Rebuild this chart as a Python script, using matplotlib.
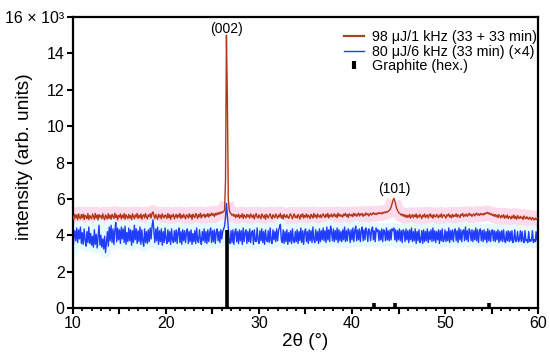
import matplotlib
matplotlib.use('Agg')
import matplotlib.pyplot as plt
import numpy as np
from matplotlib.lines import Line2D
from matplotlib.ticker import MultipleLocator, FuncFormatter

plt.rcParams['font.family'] = ['Liberation Sans', 'DejaVu Sans']

# Scan grid: 2theta from 10 to 60 deg, 0.1 deg step
two_theta = np.linspace(10, 60, 501)

# 98 uJ / 1 kHz (33 + 33 min), intensity in 10^3 counts
red = [
    5.05, 4.88, 5.15, 4.95, 5.12, 4.85, 5.18, 5.00, 4.90, 5.14,
    4.96, 5.16, 4.86, 5.10, 5.02, 4.92, 5.19, 4.87, 5.08, 5.00,
    4.90, 5.17, 5.04, 4.88, 5.20, 4.95, 5.11, 4.84, 5.13, 5.00,
    5.08, 4.91, 5.18, 4.97, 4.86, 5.12, 5.02, 4.90, 5.19, 4.94,
    5.10, 4.88, 5.15, 5.04, 4.92, 5.21, 4.97, 5.12, 4.85, 5.08,
    5.00, 5.17, 4.90, 5.10, 4.96, 5.19, 4.88, 5.13, 5.02, 4.92,
    5.15, 4.95, 5.08, 4.86, 5.18, 5.04, 4.90, 5.12, 5.00, 5.20,
    4.92, 5.10, 4.97, 5.17, 4.88, 5.08, 5.13, 4.95, 5.19, 5.02,
    4.90, 5.12, 5.04, 5.18, 4.95, 5.21, 5.28, 5.08, 4.92, 5.14,
    5.02, 4.88, 5.16, 5.00, 5.10, 4.90, 5.18, 5.04, 4.95, 5.12,
    5.07, 4.92, 5.19, 4.97, 5.13, 4.87, 5.10, 5.02, 5.16, 4.90,
    5.04, 5.15, 4.95, 5.12, 5.00, 5.20, 4.92, 5.10, 4.97, 5.16,
    5.02, 4.90, 5.13, 5.07, 4.95, 5.18, 5.00, 5.12, 4.88, 5.15,
    5.04, 4.97, 5.19, 5.10, 4.92, 5.14, 5.02, 5.21, 4.95, 5.12,
    5.06, 5.16, 4.97, 5.13, 5.04, 5.19, 5.00, 5.15, 5.08, 5.22,
    5.10, 5.18, 5.03, 5.20, 5.11, 5.23, 5.14, 5.25, 5.17, 5.28,
    5.22, 5.30, 5.28, 5.42, 7.00, 15.00, 11.50, 5.95, 5.38, 5.25,
    5.18, 5.10, 5.16, 5.04, 5.14, 4.97, 5.12, 5.02, 5.16, 4.94,
    5.09, 5.00, 5.18, 4.92, 5.13, 5.04, 4.95, 5.15, 5.02, 5.11,
    4.94, 5.17, 5.06, 4.97, 5.13, 4.90, 5.09, 5.19, 5.00, 4.95,
    5.13, 5.02, 4.91, 5.17, 5.06, 4.97, 5.11, 4.88, 5.15, 5.04,
    4.95, 5.09, 5.18, 5.00, 4.91, 5.13, 5.04, 4.97, 5.17, 5.06,
    4.93, 5.11, 5.02, 5.20, 4.95, 5.09, 4.89, 5.15, 5.04, 4.97,
    5.13, 5.00, 4.93, 5.11, 5.18, 5.02, 4.91, 5.09, 5.17, 4.97,
    5.06, 4.95, 5.15, 5.04, 4.89, 5.13, 5.02, 5.18, 4.94, 5.09,
    5.00, 5.17, 4.97, 5.11, 5.04, 4.92, 5.15, 5.06, 4.95, 5.20,
    5.02, 5.11, 4.94, 5.17, 5.04, 5.00, 5.13, 4.96, 5.09, 5.18,
    5.06, 4.97, 5.15, 5.02, 5.20, 4.95, 5.11, 5.04, 5.17, 5.00,
    5.09, 5.18, 5.02, 5.13, 4.97, 5.21, 5.06, 5.15, 5.04, 5.11,
    5.00, 5.17, 5.09, 5.20, 5.04, 5.13, 4.97, 5.18, 5.11, 5.06,
    5.15, 5.02, 5.21, 5.09, 5.17, 5.04, 5.13, 5.22, 5.06, 5.18,
    5.11, 5.20, 5.04, 5.15, 5.09, 5.23, 5.13, 5.18, 5.06, 5.17,
    5.21, 5.11, 5.18, 5.24, 5.15, 5.20, 5.13, 5.22, 5.17, 5.25,
    5.20, 5.23, 5.17, 5.26, 5.22, 5.28, 5.24, 5.30, 5.27, 5.33,
    5.36, 5.42, 5.55, 5.72, 5.92, 6.03, 5.90, 5.68, 5.48, 5.36,
    5.26, 5.20, 5.18, 5.10, 5.16, 5.05, 5.14, 5.01, 5.11, 4.97,
    5.09, 5.00, 5.15, 4.94, 5.06, 5.13, 4.97, 5.11, 5.02, 5.17,
    4.95, 5.09, 5.00, 5.15, 5.04, 4.92, 5.11, 5.02, 5.17, 4.97,
    5.06, 5.13, 4.95, 5.09, 5.18, 5.00, 5.11, 4.94, 5.13, 5.04,
    5.00, 5.15, 5.06, 4.96, 5.11, 5.02, 5.18, 4.97, 5.09, 5.13,
    5.04, 4.94, 5.13, 5.06, 5.17, 5.00, 5.09, 4.96, 5.15, 5.02,
    5.11, 5.04, 5.18, 5.00, 5.13, 5.06, 4.97, 5.15, 5.09, 5.20,
    5.02, 5.13, 5.06, 5.17, 5.04, 5.11, 5.21, 5.09, 5.15, 5.04,
    5.13, 5.18, 5.06, 5.15, 5.22, 5.11, 5.17, 5.09, 5.20, 5.13,
    5.18, 5.11, 5.21, 5.15, 5.24, 5.20, 5.26, 5.17, 5.22, 5.13,
    5.18, 5.09, 5.15, 5.04, 5.14, 5.02, 5.11, 4.97, 5.13, 5.04,
    4.95, 5.09, 5.00, 5.13, 4.93, 5.06, 4.97, 5.11, 4.92, 5.04,
    5.00, 4.90, 5.06, 4.95, 5.11, 4.92, 5.02, 4.88, 5.09, 4.97,
    4.92, 5.04, 4.94, 5.00, 4.87, 5.06, 4.96, 4.90, 5.02, 4.92,
    4.88, 5.00, 4.92, 4.85, 4.98, 4.90, 4.83, 4.95, 4.87, 4.93,
    4.92,
]

# 80 uJ / 6 kHz (33 min), multiplied by 4, intensity in 10^3 counts
blue = [
    3.20, 3.85, 4.25, 3.70, 4.40, 3.60, 4.30, 3.80, 4.45, 3.55,
    4.15, 3.50, 4.35, 3.75, 3.40, 4.20, 3.60, 4.45, 3.55, 4.10,
    3.45, 3.95, 3.35, 4.30, 3.50, 4.05, 3.30, 3.90, 4.55, 3.45,
    4.00, 3.35, 3.80, 3.25, 3.95, 3.05, 3.65, 4.20, 3.40, 4.45,
    3.70, 4.55, 3.60, 4.35, 3.50, 4.25, 4.70, 3.65, 4.40, 3.75,
    4.30, 3.55, 4.45, 3.80, 4.35, 3.60, 4.50, 3.50, 4.15, 3.65,
    4.40, 3.70, 4.30, 3.45, 4.25, 3.60, 4.55, 3.75, 4.35, 3.55,
    4.25, 3.65, 4.45, 3.50, 4.30, 3.70, 3.40, 4.35, 3.60, 4.20,
    3.55, 4.30, 3.65, 4.40, 3.80, 4.50, 4.85, 4.20, 3.60, 4.35,
    3.70, 4.45, 3.50, 4.25, 3.65, 4.35, 3.45, 4.20, 3.60, 4.40,
    3.80, 3.55, 4.30, 3.65, 4.20, 3.50, 4.35, 3.75, 3.60, 4.25,
    3.65, 4.30, 3.55, 4.15, 4.40, 3.60, 4.20, 3.50, 4.30, 3.70,
    4.25, 3.60, 4.15, 4.35, 3.55, 4.20, 3.65, 4.30, 3.50, 4.10,
    3.65, 4.25, 3.55, 4.40, 3.70, 3.60, 4.30, 3.80, 3.50, 4.20,
    3.70, 4.35, 3.60, 4.20, 3.55, 4.30, 3.65, 4.15, 4.40, 3.60,
    4.25, 3.65, 4.30, 3.55, 4.15, 4.35, 3.70, 4.20, 3.60, 4.30,
    3.80, 4.20, 4.35, 4.50, 5.00, 5.75, 5.10, 4.40, 3.65, 3.55,
    4.25, 3.60, 4.30, 3.50, 4.15, 4.35, 3.65, 4.20, 3.55, 4.30,
    3.70, 4.25, 3.50, 4.40, 3.65, 4.15, 4.30, 3.55, 4.20, 3.65,
    4.35, 3.60, 4.15, 4.25, 3.50, 4.30, 3.70, 3.65, 4.40, 3.75,
    3.55, 4.25, 3.70, 4.35, 3.60, 4.20, 3.50, 4.30, 3.75, 3.65,
    4.25, 3.60, 4.40, 3.70, 3.55, 4.30, 3.75, 4.20, 3.65, 4.35,
    3.70, 4.25, 4.45, 4.60, 3.75, 3.60, 4.30, 3.55, 4.20, 3.65,
    4.30, 3.50, 4.15, 3.65, 4.25, 3.55, 4.35, 3.70, 3.60, 4.20,
    3.65, 4.30, 3.55, 4.20, 3.70, 4.40, 3.60, 4.25, 3.50, 4.15,
    4.35, 3.65, 4.20, 3.55, 4.30, 3.70, 4.25, 3.60, 4.45, 3.75,
    3.60, 4.30, 3.70, 4.20, 3.55, 4.35, 3.65, 4.25, 3.75, 4.40,
    3.70, 4.25, 3.60, 4.45, 3.75, 4.30, 3.65, 4.50, 4.20, 3.70,
    4.35, 3.65, 4.25, 3.75, 4.40, 3.60, 4.30, 3.70, 4.20, 3.65,
    4.30, 3.75, 4.45, 3.65, 4.25, 3.70, 4.35, 4.20, 3.60, 4.30,
    3.75, 4.40, 3.65, 4.25, 4.50, 3.70, 4.30, 3.75, 4.35, 3.65,
    4.25, 4.45, 3.70, 4.30, 3.75, 4.40, 4.20, 3.65, 4.35, 4.20,
    3.70, 4.30, 4.45, 3.75, 4.25, 3.65, 4.40, 4.20, 4.30, 3.70,
    4.25, 3.75, 4.35, 3.65, 4.30, 4.20, 3.70, 4.40, 3.75, 4.25,
    3.70, 4.30, 3.75, 4.35, 4.25, 4.40, 3.75, 4.30, 3.65, 4.25,
    3.75, 4.35, 3.70, 4.25, 3.60, 4.30, 4.20, 3.65, 4.35, 3.75,
    4.25, 3.60, 4.30, 3.75, 4.40, 3.65, 4.20, 3.70, 4.35, 3.55,
    4.20, 3.70, 4.30, 3.60, 3.75, 4.25, 3.55, 4.30, 3.65, 4.20,
    3.70, 4.35, 3.60, 4.20, 3.75, 4.30, 3.65, 4.40, 3.70, 4.25,
    3.60, 4.20, 3.75, 4.30, 3.55, 4.25, 3.70, 4.35, 3.65, 3.75,
    4.30, 3.65, 4.20, 3.70, 4.40, 3.60, 4.25, 3.75, 4.30, 3.65,
    4.20, 4.35, 3.70, 4.25, 3.60, 4.40, 3.75, 4.30, 3.65, 4.20,
    4.30, 3.70, 4.45, 3.75, 4.25, 3.65, 4.35, 4.20, 3.70, 4.30,
    3.65, 4.25, 3.75, 4.40, 3.70, 4.30, 3.60, 4.20, 4.35, 3.70,
    4.25, 3.65, 4.30, 3.75, 4.20, 3.60, 4.35, 3.70, 4.25, 3.65,
    4.20, 4.30, 3.70, 4.25, 3.65, 4.20, 3.75, 4.30, 3.60, 4.20,
    3.70, 4.25, 3.65, 4.30, 3.75, 3.60, 4.20, 3.70, 4.25, 3.65,
    4.20, 3.70, 4.25, 3.60, 3.75, 4.30, 3.65, 3.75, 4.20, 3.65,
    3.75, 4.25, 3.65, 4.20, 3.70, 3.60, 4.25, 3.70, 3.75, 3.60,
    4.20, 3.65, 3.75, 3.70, 4.25, 3.60, 3.75, 3.65, 4.20, 3.70,
    3.65,
]

# Graphite (hex.) reference lines
graphite_pos = [26.55, 42.4, 44.6, 54.7]
graphite_int = [4.3, 0.25, 0.3, 0.25]

# peak labels
peak_labels = ['(002)', '(101)']
peak_pos = [26.55, 44.55]
peak_lab_y = [15.35, 6.55]

red = np.array(red)
blue = np.array(blue)

red_c = '#b3381a'
blue_c = '#1f3cff'

fig = plt.figure(figsize=(5.5, 3.56), dpi=100)
ax = fig.add_axes([0.1327, 0.1348, 0.8455, 0.8174])

# faint halos behind the traces
ax.plot(two_theta, np.where(red < 5.6, red, np.nan), color='#fcdcec', lw=10, zorder=1)
ax.plot(two_theta, np.where(blue < 4.7, blue, np.nan), color='#e6fbff', lw=8, zorder=1)

ax.plot(two_theta, blue, color=blue_c, lw=1.0, zorder=2)
ax.plot(two_theta, red, color=red_c, lw=1.0, zorder=3)
ax.vlines(graphite_pos, 0, graphite_int, color='black', lw=2.6, zorder=4)

for lab, x, y in zip(peak_labels, peak_pos, peak_lab_y):
    ax.text(x, y, lab, ha='center', va='center', fontsize=10)

ax.set_xlim(10, 60)
ax.set_ylim(0, 16)

ax.xaxis.set_major_locator(MultipleLocator(5))
ax.xaxis.set_minor_locator(MultipleLocator(1))
ax.xaxis.set_major_formatter(FuncFormatter(lambda v, p: '%d' % v if v % 10 == 0 else ''))
ax.yaxis.set_major_locator(MultipleLocator(2))
ax.yaxis.set_major_formatter(FuncFormatter(lambda v, p: '16 × 10³' if v == 16 else '%d' % v))

ax.tick_params(axis='both', which='major', direction='out', length=4, width=1.5,
               labelsize=11.5, pad=2)
ax.tick_params(axis='x', which='minor', direction='out', length=2.5, width=1.3)
for s in ax.spines.values():
    s.set_linewidth(1.6)

ax.set_xlabel('2θ (°)', fontsize=13.5, labelpad=1)
ax.set_ylabel('intensity (arb. units)', fontsize=13.8)
ax.yaxis.set_label_coords(-0.085, 0.52)

handles = [
    Line2D([], [], color='#9a4a24', lw=1.6),
    Line2D([], [], color=blue_c, lw=1.0),
    Line2D([], [], color='black', marker='|', ls='none', markersize=6, mew=3),
]
labels = ['98 μJ/1 kHz (33 + 33 min)', '80 μJ/6 kHz (33 min) (×4)', 'Graphite (hex.)']
ax.legend(handles, labels, loc='upper right', frameon=False, fontsize=10.3,
          handlelength=1.4, handletextpad=0.6, labelspacing=0.05,
          borderaxespad=0.3, bbox_to_anchor=(1.02, 0.99))

fig.savefig('out.png', dpi=100)
